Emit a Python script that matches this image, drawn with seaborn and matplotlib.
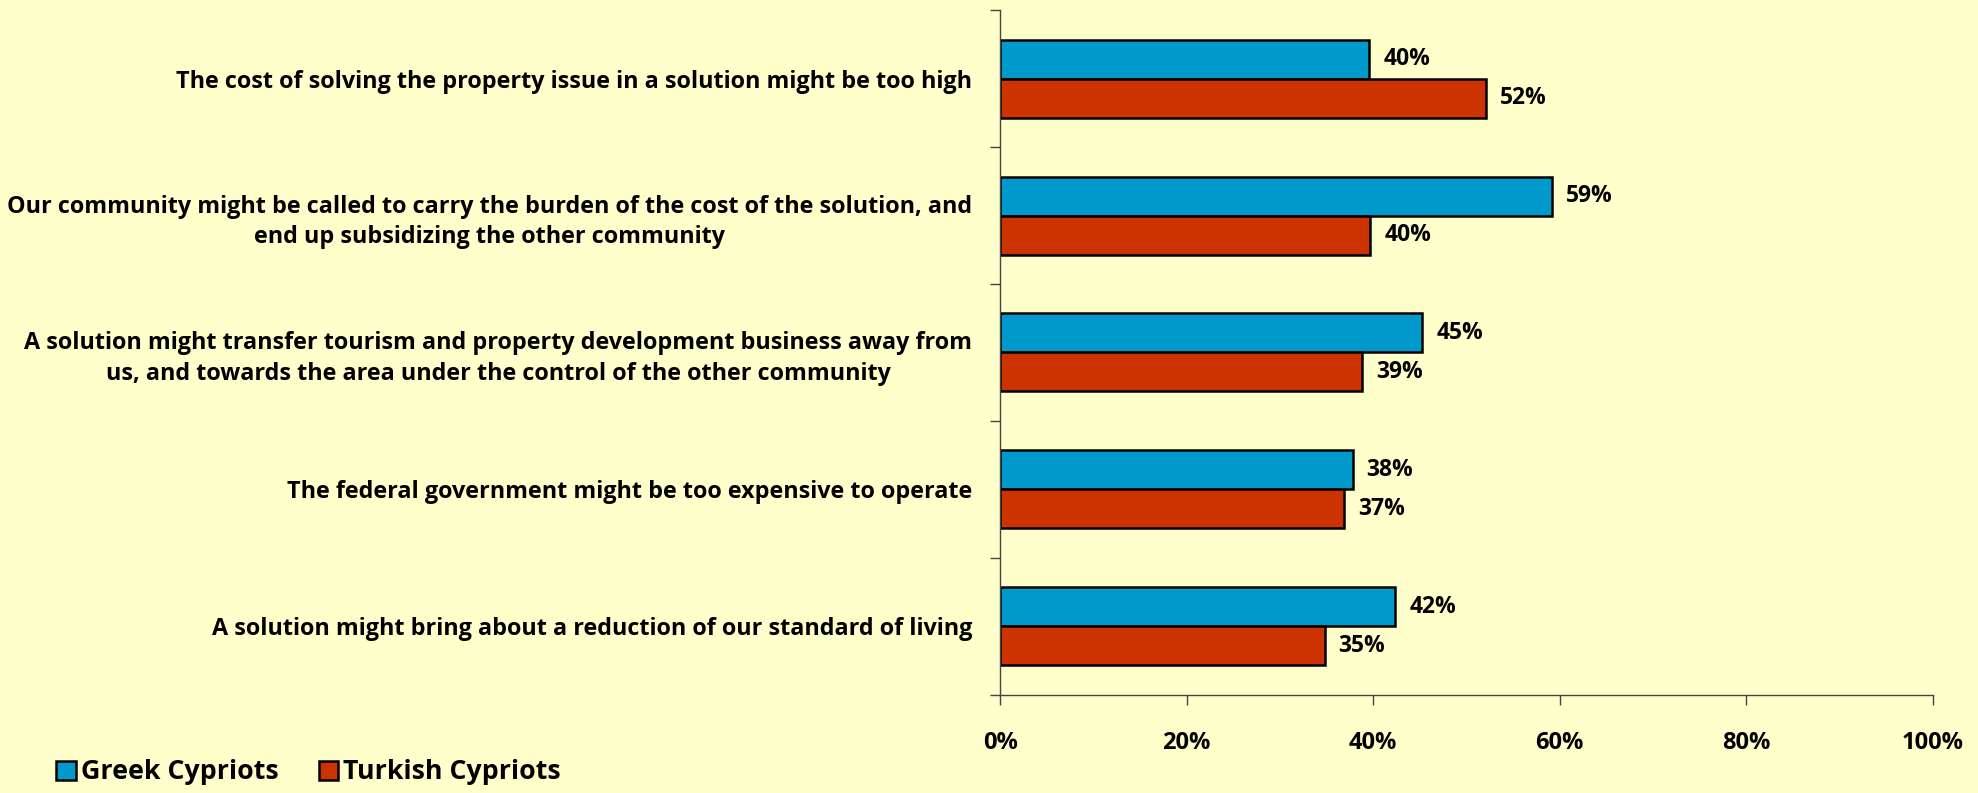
import pandas as pd
import numpy as np
import matplotlib.pyplot as plt
import seaborn as sns
from matplotlib.ticker import PercentFormatter, FixedLocator

# Data
categories = [
    "The cost of solving the property issue in a solution might be too high",
    "Our community might be called to carry the burden of the cost of the solution, and\nend up subsidizing the other community",
    "A solution might transfer tourism and property development business away from\nus, and towards the area under the control of the other community",
    "The federal government might be too expensive to operate",
    "A solution might bring about a reduction of our standard of living",
]
greek = [39.6, 59.2, 45.3, 37.8, 42.4]
turkish = [52.1, 39.7, 38.8, 36.9, 34.8]
series = ["Greek Cypriots", "Turkish Cypriots"]
colors = ["#0099CC", "#CC3300"]
bg = "#FFFFCC"

df = pd.DataFrame({
    "category": categories * 2,
    "value": greek + turkish,
    "group": [series[0]] * len(categories) + [series[1]] * len(categories),
})

sns.set_theme(style="white")
plt.rcParams["font.family"] = ["Open Sans", "DejaVu Sans"]
plt.rcParams["font.weight"] = "bold"
plt.rcParams["text.color"] = "black"
plt.rcParams["xtick.color"] = "black"
plt.rcParams["ytick.color"] = "black"

fig = plt.figure(figsize=(19.78, 7.93), dpi=100, facecolor=bg)
ax = fig.add_axes([0.5056, 0.124, 0.4714, 0.863])
ax.set_facecolor(bg)

sns.barplot(data=df, y="category", x="value", hue="group", orient="h",
            palette=colors, width=0.57, edgecolor="black", linewidth=1.8,
            saturation=1, ax=ax)

for cont in ax.containers:
    ax.bar_label(cont, labels=[f"{v:.0f}%" for v in cont.datavalues],
                 padding=10, fontsize=16.5, fontweight="bold", color="black")

ax.set_xlim(0, 100)
ax.set_ylim(4.5, -0.5)
ax.xaxis.set_major_locator(FixedLocator([0, 20, 40, 60, 80, 100]))
ax.xaxis.set_major_formatter(PercentFormatter(decimals=0))
ax.tick_params(axis="x", direction="out", length=7, width=1, color="#444444",
               labelsize=17, pad=19, bottom=True, labelcolor="black")
ax.tick_params(axis="y", which="major", length=0, labelsize=16.8, pad=20,
               labelcolor="black")
ax.yaxis.set_minor_locator(FixedLocator(np.arange(-0.5, 5, 1)))
ax.tick_params(axis="y", which="minor", direction="out", length=7, width=1,
               color="#444444", left=True)
for lbl in ax.get_yticklabels():
    lbl.set_multialignment("center")
    lbl.set_fontweight("bold")
    lbl.set_linespacing(1.35)
for lbl in ax.get_xticklabels():
    lbl.set_fontweight("bold")

ax.set_xlabel("")
ax.set_ylabel("")
for side in ["top", "right"]:
    ax.spines[side].set_visible(False)
for side in ["left", "bottom"]:
    ax.spines[side].set_color("#444444")
    ax.spines[side].set_linewidth(1)

handles, labels = ax.get_legend_handles_labels()
ax.get_legend().remove()
leg = fig.legend(handles, labels, loc="lower left", bbox_to_anchor=(0.023, -0.004),
                 ncol=2, frameon=False, handlelength=0.72, borderaxespad=0,
                 handleheight=0.72, handletextpad=0.2, columnspacing=1.5,
                 prop={"weight": "bold", "size": 19.3})

fig.savefig("out.png", dpi=100, facecolor=bg)
